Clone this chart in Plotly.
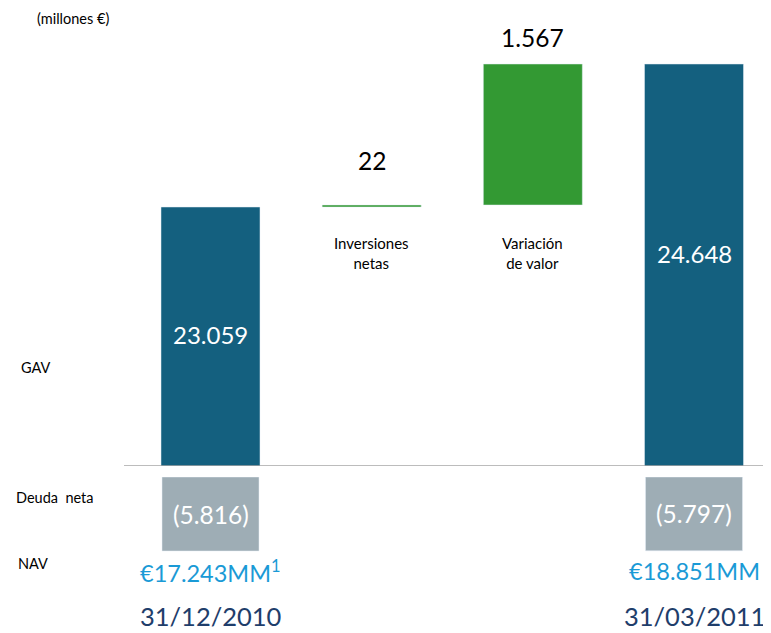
import plotly.graph_objects as go

# ---- data ----
categories = ["31/12/2010", "Inversiones netas", "Variación de valor", "31/03/2011"]
gav_start = 23059
inversiones_netas = 22
variacion_valor = 1567
gav_end = 24648
deuda_neta = [-5816, -5797]
nav_labels = ["€17.243MM<sup>1</sup>", "€18.851MM"]
value_texts = ["23.059", "22", "1.567", "24.648"]
deuda_texts = ["(5.816)", "(5.797)"]

# page body margin offset (reference pixels -> figure pixels)
OFF = 8
W, H = 771 - OFF, 633 - OFF
FONT = "Lato, 'Open Sans', sans-serif"
BLUE = "#14607f"
GREEN = "#339933"
GREY = "#9eadb5"
NAVBLUE = "#1a9ad6"
DATEBLUE = "#1f3e6b"


def px_x(p):
    return p - OFF


def px_y(p):
    return p - OFF


# bases for the waterfall steps
base_inv = gav_start
base_var = gav_start + inversiones_netas

# axis styling (broken baseline)
base_px = px_y(466)
k = (207 - 64) / (gav_end - gav_start)  # px per unit
y_bottom = gav_start - (466 - 207) / k
y_top = gav_end + px_y(64) / k
grey_top_px = px_y(477)
y2_min = deuda_neta[0] * (H - grey_top_px) / (551 - 477)

# x mapping: category 0 centre at ref px 210.5, category 3 at 694
ppu = (694 - 210.5) / 3
x_range = [-px_x(210.5) / ppu, 3 + (W - px_x(694)) / ppu]

fig = go.Figure()
fig.add_trace(go.Bar(x=[categories[0], categories[3]], y=[gav_start, gav_end],
                     marker_color=BLUE, width=99 / ppu, xaxis="x", yaxis="y",
                     hoverinfo="skip"))
fig.add_trace(go.Bar(x=[categories[1], categories[2]],
                     y=[inversiones_netas, variacion_valor],
                     base=[base_inv, base_var],
                     marker_color=GREEN, width=99 / ppu, xaxis="x", yaxis="y",
                     hoverinfo="skip"))
fig.add_trace(go.Bar(x=[categories[0], categories[3]], y=deuda_neta,
                     marker_color=GREY, width=97 / ppu, xaxis="x2", yaxis="y2",
                     hoverinfo="skip"))

ann = []
ann.append(dict(x=categories[0], y=(y_bottom + gav_start) / 2, xref="x", yref="y",
                text=value_texts[0], showarrow=False, yshift=2, yanchor="middle",
                font=dict(family=FONT, size=24, color="white")))
ann.append(dict(x=categories[3], y=(y_bottom + gav_end) / 2, xref="x", yref="y",
                text=value_texts[3], showarrow=False, yshift=12, yanchor="middle",
                font=dict(family=FONT, size=24, color="white")))
ann.append(dict(x=categories[1], y=base_inv + inversiones_netas, xref="x", yref="y",
                text=value_texts[1], showarrow=False, yanchor="bottom", yshift=28,
                font=dict(family=FONT, size=24.5, color="black")))
ann.append(dict(x=categories[2], y=base_var + variacion_valor, xref="x", yref="y",
                text=value_texts[2], showarrow=False, yanchor="bottom", yshift=10,
                font=dict(family=FONT, size=24.5, color="black")))
ann.append(dict(x=categories[1], y=gav_start, xref="x", yref="y",
                text="Inversiones<br>netas", showarrow=False, yanchor="top", yshift=-25,
                font=dict(family=FONT, size=15, color="black")))
ann.append(dict(x=categories[2], y=gav_start, xref="x", yref="y",
                text="Variación<br>de valor", showarrow=False, yanchor="top", yshift=-25,
                font=dict(family=FONT, size=15, color="black")))
for c, v, t in zip([categories[0], categories[3]], deuda_neta, deuda_texts):
    ann.append(dict(x=c, y=v / 2, xref="x2", yref="y2", text=t, showarrow=False,
                    yanchor="middle",
                    font=dict(family=FONT, size=24.5, color="white")))
for c, t in zip([categories[0], categories[3]], nav_labels):
    ann.append(dict(x=c, y=(H - px_y(571)) / H, xref="x", yref="paper", text=t,
                    showarrow=False, yanchor="middle", xanchor="center",
                    font=dict(family=FONT, size=23.5, color=NAVBLUE)))
for c in [categories[0], categories[3]]:
    ann.append(dict(x=c, y=(H - px_y(616)) / H, xref="x", yref="paper", text=c,
                    showarrow=False, yanchor="middle", xanchor="center",
                    font=dict(family=FONT, size=25.5, color=DATEBLUE)))
left = [("(millones €)", 35, 18), ("GAV", 19, 367), ("Deuda  neta", 14, 497), ("NAV", 16, 563)]
for t, px, py in left:
    ann.append(dict(x=px_x(px) / W, y=(H - px_y(py)) / H, xref="paper", yref="paper",
                    text=t, showarrow=False, xanchor="left", yanchor="middle",
                    font=dict(family=FONT, size=14.5, color="black")))

fig.update_layout(
    width=W, height=H,
    margin=dict(l=0, r=0, t=0, b=0),
    paper_bgcolor="white", plot_bgcolor="white",
    showlegend=False, barmode="overlay",
    xaxis=dict(domain=[0, 1], range=x_range, visible=False,
               categoryorder="array", categoryarray=categories),
    xaxis2=dict(domain=[0, 1], range=x_range, visible=False, anchor="y2",
                categoryorder="array", categoryarray=categories),
    yaxis=dict(domain=[(H - base_px) / H, 1], range=[y_bottom, y_top], visible=False),
    yaxis2=dict(domain=[0, (H - grey_top_px) / H], range=[y2_min, 0], visible=False,
                anchor="x2"),
    annotations=ann,
    shapes=[dict(type="line", xref="paper", yref="y", x0=px_x(124) / W, x1=1,
                 y0=y_bottom, y1=y_bottom, line=dict(color="#a6a6a6", width=1.5))],
)

fig.write_html("out.html")
